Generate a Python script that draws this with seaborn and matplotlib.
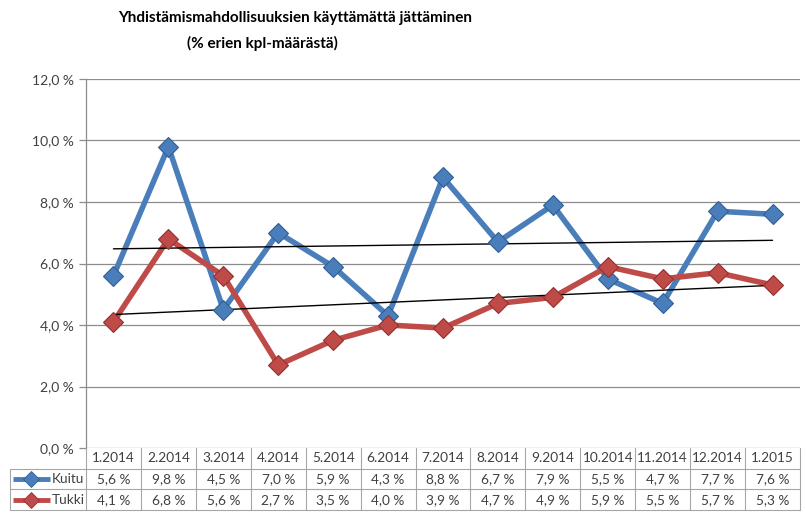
"""
Yhdistämismahdollisuuksien käyttämättä jättäminen
- Kuitu / Tukki monthly share, Excel-style line chart with data table below
"""

import numpy as np
import pandas as pd
import matplotlib
matplotlib.use("Agg")
import matplotlib.pyplot as plt
import seaborn as sns

# ------------------------------
# Data
# ------------------------------
months = ['1.2014', '2.2014', '3.2014', '4.2014', '5.2014', '6.2014', '7.2014',
          '8.2014', '9.2014', '10.2014', '11.2014', '12.2014', '1.2015']
kuitu = [5.6, 9.8, 4.5, 7.0, 5.9, 4.3, 8.8, 6.7, 7.9, 5.5, 4.7, 7.7, 7.6]
tukki = [4.1, 6.8, 5.6, 2.7, 3.5, 4.0, 3.9, 4.7, 4.9, 5.9, 5.5, 5.7, 5.3]
y_ticks = [0, 2, 4, 6, 8, 10, 12]

series = {'Kuitu': kuitu, 'Tukki': tukki}
colors = {'Kuitu': '#4A7EBB', 'Tukki': '#BE4B48'}
edges = {'Kuitu': '#2E5F96', 'Tukki': '#94302E'}

df = pd.DataFrame({'kk': np.arange(len(months)), 'Kuitu': kuitu, 'Tukki': tukki})
df_long = df.melt(id_vars='kk', var_name='sarja', value_name='arvo')

# ------------------------------
# Style
# ------------------------------
sns.set_style('white')
plt.rcParams['font.family'] = ['Lato', 'DejaVu Sans']
text_col = '#404040'
grid_col = '#8C8C8C'

W, H = 806, 516
fig = plt.figure(figsize=(W / 100, H / 100), dpi=100)

# plot area in pixels
left, right, top, bottom = 86, 800, 79, 448
ax = fig.add_axes([left / W, 1 - bottom / H, (right - left) / W, (bottom - top) / H])

# ------------------------------
# Lines with diamond markers
# ------------------------------
sns.lineplot(data=df_long, x='kk', y='arvo', hue='sarja', palette=colors,
             linewidth=4, legend=False, ax=ax, zorder=3)
for name in series:
    ax.plot(df['kk'], df[name], linestyle='none', marker='D', markersize=10,
            color=colors[name], markeredgecolor=edges[name], markeredgewidth=0.8,
            zorder=5)

# linear trend lines
for name in series:
    sns.regplot(data=df, x='kk', y=name, scatter=False, ci=None, truncate=True,
                line_kws={'color': 'black', 'linewidth': 1.0, 'zorder': 4}, ax=ax)

ax.set_xlim(-0.5, len(months) - 0.5)
ax.set_ylim(0, 12)
ax.set_yticks(y_ticks)
ax.set_yticklabels([f'{v:.1f}'.replace('.', ',') + ' %' for v in y_ticks],
                   fontsize=10, color=text_col)
ax.set_xticks([])
ax.set_xlabel('')
ax.set_ylabel('')
ax.yaxis.grid(True, color=grid_col, linewidth=0.9)
ax.set_axisbelow(True)
ax.tick_params(axis='y', length=5, width=0.9, color=grid_col, left=True, pad=4)
for s in ['top', 'right', 'bottom']:
    ax.spines[s].set_visible(False)
ax.spines['left'].set_color(grid_col)
ax.spines['left'].set_linewidth(0.9)

# ------------------------------
# Data table under the chart
# ------------------------------
n = len(months)
lab_w = 790 / ((right - left) / n) - n
tax = fig.add_axes([10 / W, 1 - 510 / H, 790 / W, 62 / H])
tax.set_xlim(-0.5 - lab_w, n - 0.5)
tax.set_ylim(3, 0)
tax.axis('off')
line_col = '#A6A6A6'

# header cells
for i, m in enumerate(months):
    tax.text(i, 0.5, m, ha='center', va='center', fontsize=9.8, color=text_col)
# values
for r, name in enumerate(series, start=1):
    for i, v in enumerate(series[name]):
        tax.text(i, r + 0.5, f'{v:.1f}'.replace('.', ',') + ' %', ha='center',
                 va='center', fontsize=9.8, color=text_col)
    # legend key + name
    x0 = -0.5 - lab_w
    tax.plot([x0 + 0.05, x0 + 0.72], [r + 0.5, r + 0.5], color=colors[name],
             linewidth=3.5, solid_capstyle='butt', clip_on=False)
    tax.plot([x0 + 0.385], [r + 0.5], marker='D', markersize=8, color=colors[name],
             markeredgecolor=edges[name], markeredgewidth=0.6, clip_on=False)
    tax.text(-0.53, r + 0.5, name, ha='right', va='center', fontsize=9.8, color=text_col)

# grid lines of the table
for i in range(n + 1):
    tax.plot([i - 0.5, i - 0.5], [0, 3], color=line_col, linewidth=0.8, clip_on=False)
tax.plot([-0.5 - lab_w] * 2, [1, 3], color=line_col, linewidth=0.8, clip_on=False)
for yy in [1, 2, 3]:
    tax.plot([-0.5 - lab_w, n - 0.5], [yy, yy], color=line_col, linewidth=0.8,
             clip_on=False)

# ------------------------------
# Title
# ------------------------------
fig.text(118 / W, 1 - 18 / H, 'Yhdistämismahdollisuuksien käyttämättä jättäminen',
         ha='left', va='center', fontsize=11, fontweight='bold', color='black')
fig.text(187 / W, 1 - 43 / H, '(% erien kpl-määrästä)',
         ha='left', va='center', fontsize=11, fontweight='bold', color='black')

fig.savefig('out.png', dpi=100, facecolor='white')
